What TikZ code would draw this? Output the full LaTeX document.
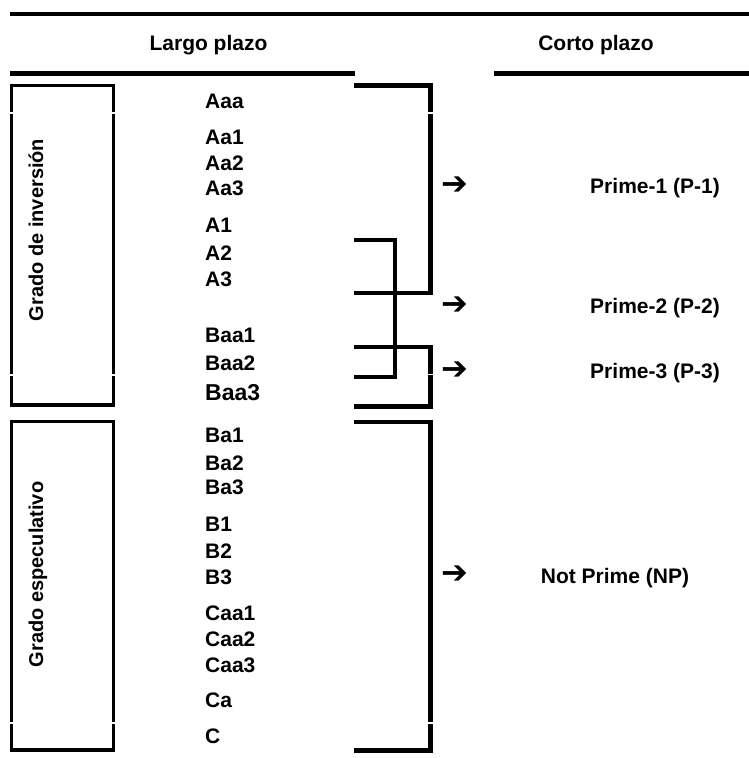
\documentclass[tikz,border=0pt]{standalone}
\usepackage{fontspec}
\setmainfont{Liberation Sans}
\newfontfamily\symfont{DejaVu Sans}
\begin{document}
\begin{tikzpicture}[x=1pt,y=-1pt,
  lbl/.style={font=\fontsize{21}{24}\selectfont\bfseries, inner sep=0pt, anchor=base west},
  head/.style={font=\fontsize{21}{24}\selectfont\bfseries, inner sep=0pt, anchor=base},
  side/.style={font=\fontsize{20}{24}\selectfont\bfseries, inner sep=0pt, anchor=base, rotate=90},
  rulebar/.style={line width=4.5pt},
  boxline/.style={line width=3.2pt},
  brk/.style={line width=4.3pt},
  gap/.style={white, line width=1.1pt},
  arr/.style={font=\symfont\fontsize{32}{34}\selectfont, inner sep=0pt, anchor=center},
]
\useasboundingbox[fill=white] (0,0) rectangle (749,758);

% header rules
\draw[rulebar] (10,14) -- (749,14);
\draw[rulebar] (10,73.5) -- (355,73.5);
\draw[rulebar] (494,73.5) -- (749,73.5);

% headings
\node[head] (largo) at (208.5,50) {Largo plazo};
\node[head] (corto) at (596,50) {Corto plazo};

% left boxes
\draw[boxline] (11.5,85.5) rectangle (113.5,405);
\draw[boxline] (11.5,421.5) rectangle (113.5,750);
\node[side] (inv) at (43,230) {Grado de inversión};
\node[side] (esp) at (43,574.5) {Grado especulativo};

% ratings
\node[lbl] (Aaa) at (205,108.5) {Aaa};
\node[lbl] (Aa1) at (205,144) {Aa1};
\node[lbl] (Aa2) at (205,170.5) {Aa2};
\node[lbl] (Aa3) at (205,195.5) {Aa3};
\node[lbl] (A1) at (205,232.5) {A1};
\node[lbl] (A2) at (205,260.5) {A2};
\node[lbl] (A3) at (205,286.5) {A3};
\node[lbl] (Baa1) at (205,342.5) {Baa1};
\node[lbl] (Baa2) at (205,370.5) {Baa2};
\node[lbl, font=\fontsize{23}{26}\selectfont\bfseries] (Baa3) at (205,400) {Baa3};
\node[lbl] (Ba1) at (205,442.5) {Ba1};
\node[lbl] (Ba2) at (205,470.5) {Ba2};
\node[lbl] (Ba3) at (205,494.5) {Ba3};
\node[lbl] (B1) at (205,531.5) {B1};
\node[lbl] (B2) at (205,558.5) {B2};
\node[lbl] (B3) at (205,584.5) {B3};
\node[lbl] (Caa1) at (205,620.5) {Caa1};
\node[lbl] (Caa2) at (205,646.5) {Caa2};
\node[lbl] (Caa3) at (205,672.5) {Caa3};
\node[lbl] (Ca) at (205,707.5) {Ca};
\node[lbl] (C) at (205,743.5) {C};

% brackets
\draw[brk] (354,85.5) -| (430.5,293) -- (354,293);
\draw[brk] (354,240) -| (395,377) -- (354,377);
\draw[brk] (354,347) -| (430.5,406.5) -- (354,406.5);
\draw[brk] (354,422) -| (430.5,750.5) -- (354,750.5);

% small breaks in the vertical rules
\draw[gap] (5,113) -- (120,113);
\draw[gap] (424,113) -- (437,113);
\draw[gap] (5,375) -- (120,375);
\draw[gap] (424,374.5) -- (437,374.5);
\draw[gap] (5,723) -- (120,723);
\draw[gap] (424,723) -- (437,723);

% arrows and short-term ratings
\node[arr] (a1) at (455,186) {➔};
\node[arr] (a2) at (455,306) {➔};
\node[arr] (a3) at (455,371) {➔};
\node[arr] (a4) at (455,575) {➔};
\node[head] (p1) at (655,193) {Prime-1 (P-1)};
\node[head] (p2) at (655,313) {Prime-2 (P-2)};
\node[head] (p3) at (655,378) {Prime-3 (P-3)};
\node[head] (np) at (615,583) {Not Prime (NP)};
\end{tikzpicture}
\end{document}
